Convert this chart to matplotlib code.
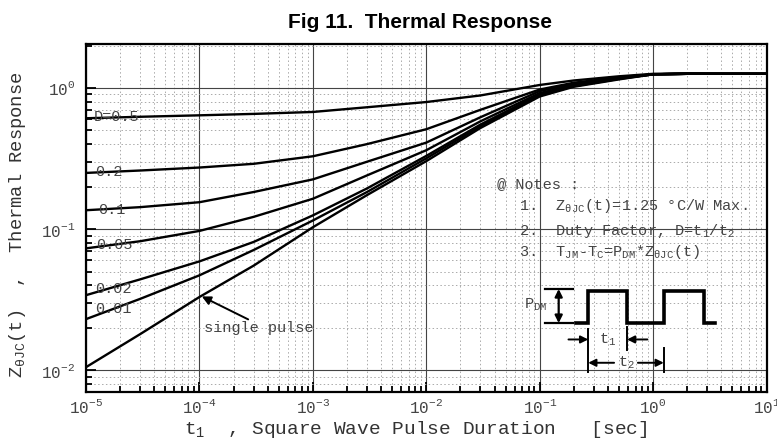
import matplotlib
matplotlib.use("Agg")
import matplotlib.pyplot as plt
from matplotlib.ticker import LogLocator, LogFormatterMathtext, NullFormatter

plt.rcParams['font.family'] = ['Liberation Mono', 'DejaVu Sans']
plt.rcParams['mathtext.fontset'] = 'custom'
plt.rcParams['mathtext.rm'] = 'Liberation Mono'
plt.rcParams['mathtext.it'] = 'Liberation Mono'
plt.rcParams['mathtext.default'] = 'regular'

# pulse duration t1 [sec]
t1 = [1e-5, 3e-5, 1e-4, 3e-4, 1e-3, 3e-3, 1e-2, 3e-2, 1e-1, 2e-1, 5e-1, 1, 2, 5, 10]

# thermal response Z(t) per duty factor
z_d050 = [0.61, 0.625, 0.64, 0.655, 0.676, 0.73, 0.795, 0.885, 1.05, 1.13, 1.21, 1.26, 1.27, 1.26, 1.26]
z_d020 = [0.25, 0.26, 0.273, 0.29, 0.328, 0.40, 0.51, 0.70, 0.975, 1.09, 1.19, 1.25, 1.26, 1.26, 1.26]
z_d010 = [0.136, 0.143, 0.155, 0.183, 0.225, 0.30, 0.41, 0.62, 0.95, 1.07, 1.18, 1.25, 1.26, 1.26, 1.26]
z_d005 = [0.073, 0.082, 0.097, 0.122, 0.164, 0.24, 0.362, 0.58, 0.92, 1.05, 1.17, 1.25, 1.26, 1.26, 1.26]
z_d002 = [0.034, 0.044, 0.059, 0.081, 0.125, 0.194, 0.33, 0.55, 0.90, 1.04, 1.17, 1.25, 1.26, 1.26, 1.26]
z_d001 = [0.023, 0.032, 0.047, 0.071, 0.115, 0.183, 0.317, 0.535, 0.89, 1.03, 1.16, 1.25, 1.26, 1.26, 1.26]
z_single = [0.0105, 0.018, 0.033, 0.055, 0.103, 0.174, 0.303, 0.52, 0.87, 1.02, 1.15, 1.25, 1.26, 1.26, 1.26]

curves = [z_d050, z_d020, z_d010, z_d005, z_d002, z_d001, z_single]

# curve labels and where they sit (data coords)
duty_labels = ['D=0.5', '0.2', '0.1', '0.05', '0.02', '0.01']
duty_label_x = [1.18e-5, 1.2e-5, 1.28e-5, 1.24e-5, 1.2e-5, 1.2e-5]
duty_label_y = [0.623, 0.254, 0.137, 0.0766, 0.0378, 0.0272]

fig = plt.figure(figsize=(7.77, 4.43), dpi=100)
ax = fig.add_axes([0.1107, 0.1151, 0.8758, 0.7856])

for z in curves:
    ax.plot(t1, z, color='black', lw=1.7, zorder=3)

ax.set_xscale('log')
ax.set_yscale('log')
ax.set_xlim(1e-5, 10)
ax.set_ylim(0.007, 2.05)

ax.xaxis.set_major_locator(LogLocator(base=10, numticks=10))
ax.xaxis.set_minor_locator(LogLocator(base=10, subs=range(2, 10), numticks=20))
ax.yaxis.set_major_locator(LogLocator(base=10, numticks=10))
ax.yaxis.set_minor_locator(LogLocator(base=10, subs=range(2, 10), numticks=20))
ax.xaxis.set_major_formatter(LogFormatterMathtext())
ax.yaxis.set_major_formatter(LogFormatterMathtext())
ax.xaxis.set_minor_formatter(NullFormatter())
ax.yaxis.set_minor_formatter(NullFormatter())

ax.grid(True, which='major', color='#444444', lw=0.8, ls='-')
ax.grid(True, which='minor', color='#aaaaaa', lw=0.7, ls=(0, (1.5, 2.5)))
ax.set_axisbelow(True)

ax.tick_params(which='both', direction='in', top=False, right=False,
               labelsize=11.5, labelcolor='#444444', width=1.3)
ax.tick_params(which='major', length=7)
ax.tick_params(which='minor', length=4)
ax.tick_params(axis='x', which='major', pad=4)
ax.tick_params(axis='y', which='major', pad=8)
for s in ax.spines.values():
    s.set_linewidth(1.6)

ax.set_xlabel('$t_1$  , Square Wave Pulse Duration   [sec]', fontsize=14,
              color='#333333', va='center')
ax.xaxis.set_label_coords(0.484, -0.108)
ax.set_ylabel('$Z_{θJC}$(t)  ,  Thermal Response', fontsize=13.5,
              color='#333333', va='center')
ax.yaxis.set_label_coords(-0.1, 0.48)

fig.text(0.54, 1 - 28 / 443, 'Fig 11.  Thermal Response', ha='center', va='baseline',
         fontsize=15, fontweight='bold', family='Liberation Sans')

for lab, lx, ly in zip(duty_labels, duty_label_x, duty_label_y):
    ax.text(lx, ly, lab, fontsize=11, color='#444444', va='center', ha='left', zorder=4)

# single pulse arrow
ax.annotate('single pulse', xy=(1.05e-4, 0.0333), xytext=(1.1e-4, 0.0199),
            fontsize=11, color='#444444', va='center', ha='left')
ax.annotate('', xy=(1.05e-4, 0.0333), xytext=(2.69e-4, 0.0229),
            arrowprops=dict(arrowstyle='-|>', color='black', lw=1.4,
                            mutation_scale=13, shrinkA=0, shrinkB=0))

# notes
note_kw = dict(transform=ax.transAxes, fontsize=11, color='#444444', va='center', ha='left')
ax.text(0.604, 0.598, '@ Notes :', **note_kw)
ax.text(0.636, 0.534, '1.  $Z_{θJC}$(t)=1.25 °C/W Max.', **note_kw)
ax.text(0.636, 0.463, '2.  Duty Factor, D=$t_1$/$t_2$', **note_kw)
ax.text(0.636, 0.403, '3.  $T_{JM}$-$T_C$=$P_{DM}$*$Z_{θJC}$(t)', **note_kw)

# pulse train sketch
px = [0.7206, 0.7378, 0.7378, 0.7951, 0.7951, 0.849, 0.849, 0.9078, 0.9078, 0.925]
py = [0.199, 0.199, 0.291, 0.291, 0.199, 0.199, 0.291, 0.291, 0.199, 0.199]
ax.plot(px, py, color='black', lw=2.6, transform=ax.transAxes,
        solid_joinstyle='miter', zorder=4)

tr = ax.transAxes
ax.plot([0.675, 0.716], [0.296, 0.296], color='black', lw=1.6, transform=tr)
ax.plot([0.675, 0.716], [0.198, 0.198], color='black', lw=1.6, transform=tr)
ax.annotate('', xy=(0.6946, 0.296), xytext=(0.6946, 0.198), xycoords='axes fraction',
            arrowprops=dict(arrowstyle='<|-|>', color='black', lw=1.6,
                            mutation_scale=11, shrinkA=0, shrinkB=0))
ax.text(0.643, 0.25, '$P_{DM}$', transform=tr, fontsize=11, color='#444444',
        va='center', ha='left')

# t1 / t2 markers
ax.plot([0.738, 0.738], [0.181, 0.058], color='black', lw=1.4, transform=tr)
ax.plot([0.795, 0.795], [0.188, 0.121], color='black', lw=1.4, transform=tr)
ax.plot([0.849, 0.849], [0.126, 0.058], color='black', lw=1.4, transform=tr)
arr = dict(arrowstyle='-|>', color='black', lw=1.4, mutation_scale=11, shrinkA=0, shrinkB=0)
ax.annotate('', xy=(0.738, 0.151), xytext=(0.709, 0.151), xycoords='axes fraction', arrowprops=arr)
ax.annotate('', xy=(0.795, 0.151), xytext=(0.825, 0.151), xycoords='axes fraction', arrowprops=arr)
ax.text(0.766, 0.151, '$t_1$', transform=tr, fontsize=11, color='#444444', va='center', ha='center')
ax.annotate('', xy=(0.738, 0.084), xytext=(0.776, 0.084), xycoords='axes fraction', arrowprops=arr)
ax.annotate('', xy=(0.849, 0.084), xytext=(0.811, 0.084), xycoords='axes fraction', arrowprops=arr)
ax.text(0.794, 0.084, '$t_2$', transform=tr, fontsize=11, color='#444444', va='center', ha='center')

fig.savefig('out.png', dpi=100)
